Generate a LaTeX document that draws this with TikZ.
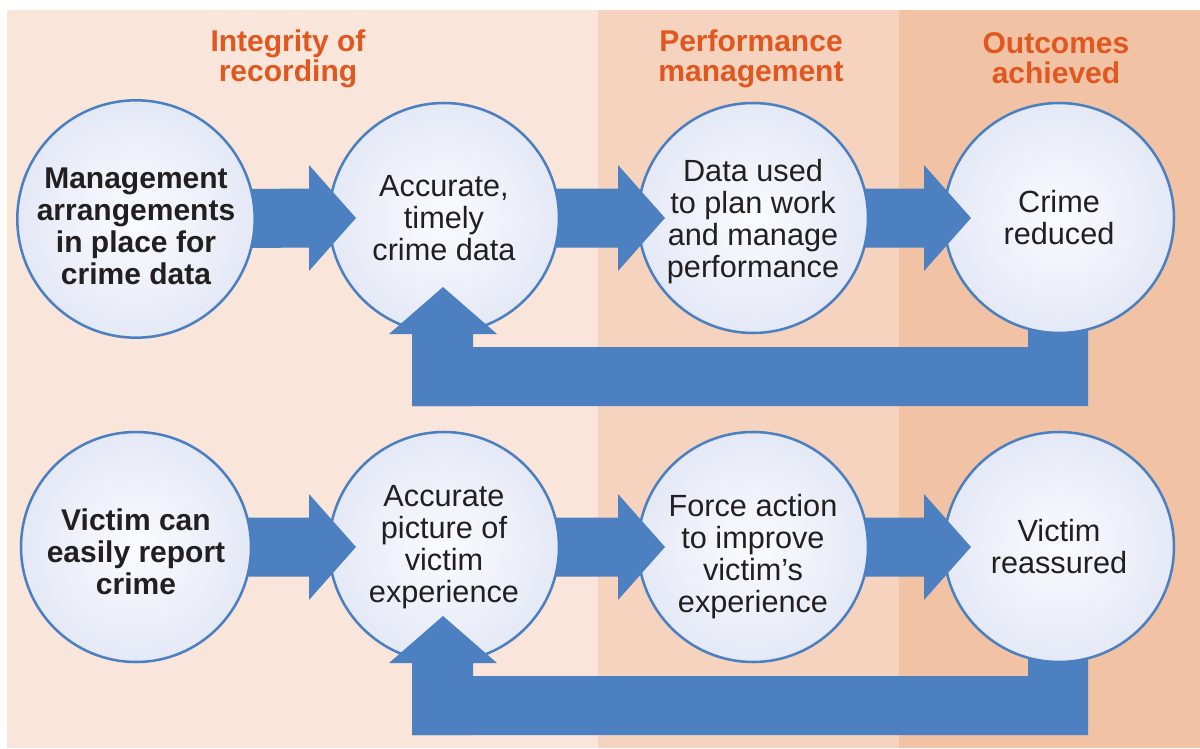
\documentclass[tikz,border=0pt]{standalone}
\usepackage{fontspec}
\setmainfont{Liberation Sans}
\usetikzlibrary{calc}
\definecolor{bandA}{HTML}{F9E5DA}
\definecolor{bandB}{HTML}{F6D3BE}
\definecolor{bandC}{HTML}{F2C2A5}
\definecolor{titlec}{HTML}{E0581F}
\definecolor{flowc}{HTML}{4C80C1}
\definecolor{rimc}{HTML}{4A80C2}
\definecolor{inkc}{HTML}{231F20}
\definecolor{bubA}{HTML}{FAFBFE}
\definecolor{bubB}{HTML}{EBEEF8}
\definecolor{bubC}{HTML}{CDD6EE}
\pgfdeclareradialshading{bubble}{\pgfpoint{0bp}{0bp}}{color(0bp)=(bubA); color(18bp)=(bubB); color(50bp)=(bubC)}
\pgfdeclarelayer{lbg}
\pgfdeclarelayer{lfb}
\pgfdeclarelayer{lkd}
\pgfdeclarelayer{lac}
\pgfdeclarelayer{lkc}
\pgfdeclarelayer{lab}
\pgfdeclarelayer{lkb}
\pgfdeclarelayer{laa}
\pgfdeclarelayer{lka}
\pgfsetlayers{lbg,lfb,lkd,lac,lkc,lab,lkb,laa,lka,main}
\newcommand{\lowr}[1]{\rule{0pt}{#1}}
\tikzset{
  bub/.style={circle, draw=rimc, line width=1.9pt, shading=bubble,
    minimum size=172.5pt, inner sep=0pt, align=center, text=inkc,
    font=\fontsize{23pt}{24pt}\selectfont},
  bubbold/.style={bub, font=\fontsize{22.5pt}{24pt}\selectfont\bfseries},
  heading/.style={align=center, text=titlec, inner sep=0pt,
    font=\fontsize{22.5pt}{22.5pt}\selectfont\bfseries},
  flow/.style={fill=flowc, draw=none}
}
\newcommand{\fwdarrow}[2]{%
  \fill[flow] ($(#1.center)+(60,-29.5)$) -- ($(#2.center)+(-135,-29.5)$)
    -- ($(#2.center)+(-135,-53)$) -- ($(#2.center)+(-88,0)$)
    -- ($(#2.center)+(-135,53)$) -- ($(#2.center)+(-135,29.5)$)
    -- ($(#1.center)+(60,29.5)$) -- cycle;}
\newcommand{\backbody}[2]{%
  \fill[flow] ($(#1.center)+(-32,188)$) -- ($(#1.center)+(-32,129)$)
    -- ($(#2.center)+(-31,129)$) -- ($(#2.center)+(-31,80)$)
    -- ($(#2.center)+(29,80)$) -- ($(#2.center)+(29,188)$) -- cycle;}
\newcommand{\backhead}[1]{%
  \fill[flow] ($(#1.center)+(-32,188)$) -- ($(#1.center)+(-32,116)$)
    -- ($(#1.center)+(-55,116)$) -- ($(#1.center)+(-1,69)$)
    -- ($(#1.center)+(53,116)$) -- ($(#1.center)+(29,116)$)
    -- ($(#1.center)+(29,188)$) -- cycle;}
\begin{document}
\begin{tikzpicture}[x=0.75pt,y=-0.75pt]
\useasboundingbox (0,0) rectangle (1200,749);
\begin{pgfonlayer}{lbg}
  \fill[white] (0,0) rectangle (1200,749);
  \fill[bandA] (7,10) rectangle (598,748);
  \fill[bandB] (598,10) rectangle (899,748);
  \fill[bandC] (899,10) rectangle (1200,748);
  \node[heading] (h1) at (288,59) {Integrity of\\recording};
  \node[heading] (h2) at (751,59) {Performance\\management};
  \node[heading] (h3) at (1056,58) {Outcomes\\achieved};
\end{pgfonlayer}
% circles
\begin{pgfonlayer}{lka}
  \node[bubbold] (c1) at (136,219) {\lowr{26.5pt}Management\\arrangements\\in place for\\crime data};
  \node[bubbold] (d1) at (136,547) {\lowr{23pt}Victim can\\easily report\\crime};
\end{pgfonlayer}
\begin{pgfonlayer}{lkb}
  \node[bub] (c2) at (444,218) {Accurate,\\timely\\crime data};
  \node[bub] (d2) at (444,547) {Accurate\\picture of\\victim\\experience};
\end{pgfonlayer}
\begin{pgfonlayer}{lkc}
  \node[bub] (c3) at (753,218) {\lowr{22.5pt}Data used\\to plan work\\and manage\\performance};
  \node[bub] (d3) at (753,547) {\lowr{31.5pt}Force action\\to improve\\victim’s\\experience};
\end{pgfonlayer}
\begin{pgfonlayer}{lkd}
  \node[bub] (c4) at (1059,218) {Crime\\reduced};
  \node[bub] (d4) at (1059,547) {Victim\\reassured};
\end{pgfonlayer}
% forward arrows
\begin{pgfonlayer}{laa}
  \fwdarrow{c1}{c2}
  \fwdarrow{d1}{d2}
\end{pgfonlayer}
\begin{pgfonlayer}{lab}
  \fwdarrow{c2}{c3}
  \fwdarrow{d2}{d3}
\end{pgfonlayer}
\begin{pgfonlayer}{lac}
  \fwdarrow{c3}{c4}
  \fwdarrow{d3}{d4}
\end{pgfonlayer}
% feedback arrows
\begin{pgfonlayer}{lfb}
  \backbody{c2}{c4}
  \backbody{d2}{d4}
\end{pgfonlayer}
\backhead{c2}
\backhead{d2}
\end{tikzpicture}
\end{document}
